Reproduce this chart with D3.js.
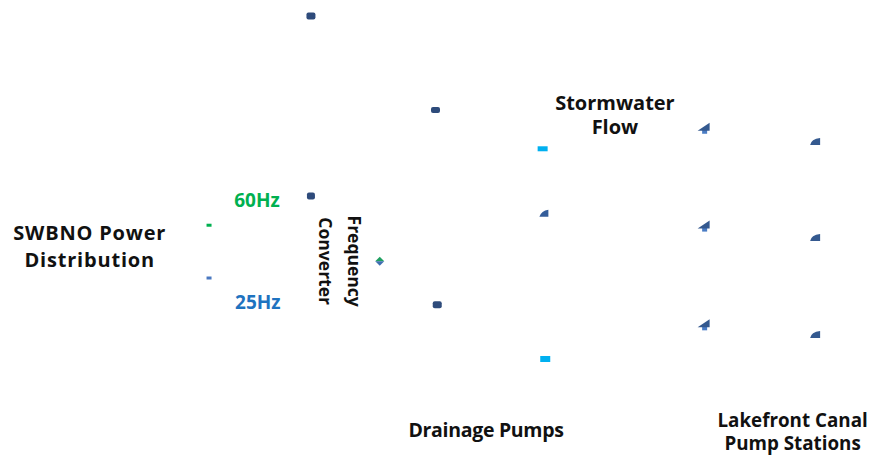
<!DOCTYPE html>
<html>
<head>
<meta charset="utf-8">
<script src="https://cdn.jsdelivr.net/npm/d3@7/dist/d3.min.js"></script>
<style>
html,body{margin:0;padding:0;background:#fff;}
svg{display:block;}
text{font-family:"Open Sans","DejaVu Sans",sans-serif;font-weight:700;}
</style>
</head>
<body>
<div id="chart"></div>
<script>
// ---- data (positions in layout units: x 0-100 across, y 0-100 down) ----
const nodeNames = ["Hub A","Converter In","Pump 1","Pump 2","Flow 1","Flow 2","60Hz","25Hz","Frequency Converter","Drainage Pump"];
const nodeX     = [35.7, 35.7, 50.0, 50.2, 62.3, 62.6, 24.0, 24.0, 43.6, 62.5];
const nodeY     = [3.5, 43.1, 24.2, 67.0, 32.7, 78.9, 49.5, 61.1, 57.4, 47.0];
const nodeKind  = ["rect","rect","rect","rect","cyan","cyan","green","blue","diamond","wedge"];
const nodeW     = [9, 8, 9, 9, 10, 10, 5, 5, 9, 9];
const nodeH     = [7, 7, 6, 7, 5, 6, 3, 3, 9, 7];

const stationNames = ["Station 1","Station 2","Station 3"];
const stationY     = [28.3, 49.8, 71.5];
const canalY       = [31.2, 52.3, 73.6];
const stationX     = 80.9;
const canalX       = 93.7;

const labelLines = [["SWBNO Power","Distribution"],["60Hz"],["25Hz"],["Stormwater","Flow"],["Drainage Pumps"],["Lakefront Canal","Pump Stations"]];
const labelX     = [10.3, 29.5, 29.6, 70.6, 55.8, 91.0];
const labelY     = [52.7, 45.4, 68.0, 24.1, 96.0, 93.9];
const labelColor = ["#111","#00b050","#1f73c0","#111","#111","#111"];
const labelSize  = [20, 19, 19, 20, 19.5, 18.8];
const labelSpace = [0.8, 0, 0, 0, -0.3, 0];
const labelLead  = [27, 0, 0, 24, 0, 23];
const rotLines   = ["Frequency","Converter"];

const W = 871, H = 455;
const x = d3.scaleLinear().domain([0,100]).range([0,W]);
const y = d3.scaleLinear().domain([0,100]).range([0,H]);

const svg = d3.select("#chart").append("svg").attr("width",W).attr("height",H);

const colors = {rect:"#2e4b7b", cyan:"#00b0f0", green:"#00b050", blue:"#4a78c0"};

nodeNames.forEach((n,i)=>{
  const cx = x(nodeX[i]), cy = y(nodeY[i]), w = nodeW[i], h = nodeH[i];
  const k = nodeKind[i];
  if (k === "diamond") {
    svg.append("path").attr("d",`M${cx-w/2},${cy} L${cx},${cy-h/2} L${cx+w/2},${cy} Z`).attr("fill","#1fa060");
    svg.append("path").attr("d",`M${cx-w/2},${cy} L${cx},${cy+h/2} L${cx+w/2},${cy} Z`).attr("fill","#3f6fb0");
  } else if (k === "wedge") {
    svg.append("path").attr("d",`M${cx-5},${cy+3} Q${cx-3},${cy-3} ${cx+4},${cy-4} L${cx+4},${cy+3} Z`).attr("fill","#345d9a");
  } else {
    svg.append("rect").attr("x",cx-w/2).attr("y",cy-h/2).attr("width",w).attr("height",h)
      .attr("rx", k==="rect"?2:0).attr("fill",colors[k]);
  }
});

stationNames.forEach((s,i)=>{
  const cx = x(stationX), cy = y(stationY[i]);
  svg.append("rect").attr("x",cx-2.5).attr("y",cy+1).attr("width",5).attr("height",4).attr("fill","#4a7cc4");
  svg.append("path").attr("d",`M${cx-7},${cy+2} L${cx+5},${cy-6} L${cx+5},${cy+2} Z`).attr("fill","#34598f");
  const lx = x(canalX), ly = y(canalY[i]);
  svg.append("path").attr("d",`M${lx-6},${ly+3} Q${lx-5},${ly-3} ${lx+4},${ly-4} L${lx+4},${ly+3} Z`).attr("fill","#34598f");
});

labelLines.forEach((lines,i)=>{
  const t = svg.append("text").attr("text-anchor","middle")
    .attr("fill",labelColor[i]).style("font-size",labelSize[i]+"px")
    .style("letter-spacing",labelSpace[i]+"px");
  lines.forEach((l,j)=>{
    t.append("tspan").attr("x",x(labelX[i])).attr("y",y(labelY[i]) + j*labelLead[i]).text(l);
  });
});

const rot = svg.append("text").attr("text-anchor","middle").style("font-size","17.5px").attr("fill","#111")
  .attr("transform",`translate(${x(40.0)},${y(57.4)}) rotate(90)`);
rotLines.forEach((l,j)=>{
  rot.append("tspan").attr("x",0).attr("y",j*29).text(l);
});
</script>
</body>
</html>
